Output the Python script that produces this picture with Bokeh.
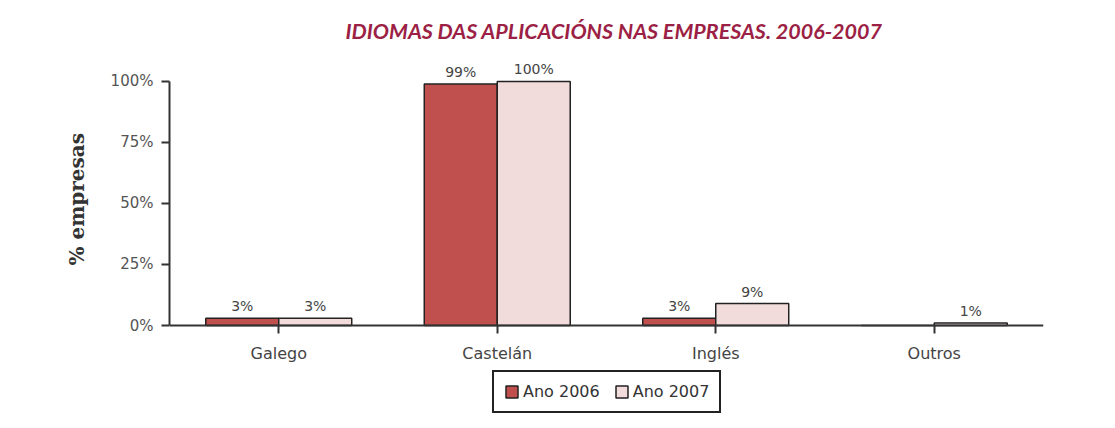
from bokeh.plotting import figure
from bokeh.models import (ColumnDataSource, FactorRange, Legend, LegendItem, Title,
                          PrintfTickFormatter, FixedTicker)
from bokeh.transform import dodge
from bokeh.core.properties import value
from bokeh.embed import file_html
from bokeh.resources import INLINE

categories = ["Galego", "Castelán", "Inglés", "Outros"]
ano_2006 = [3, 99, 3, 0]
ano_2007 = [3, 100, 9, 1]
series_names = ["Ano 2006", "Ano 2007"]
y_ticks = [0, 25, 50, 75, 100]
title_text = "IDIOMAS DAS APLICACIÓNS NAS EMPRESAS. 2006-2007"
y_label = "% empresas"

c2006 = "#c0504d"
c2007 = "#f2dcdb"

def lbl(vals):
    return [f"{v}%" if v > 0 else "" for v in vals]

src = ColumnDataSource(dict(cat=categories, a=ano_2006, b=ano_2007,
                            la=lbl(ano_2006), lb=lbl(ano_2007)))

p = figure(width=1095, height=420, output_backend="svg", toolbar_location=None,
           x_range=FactorRange(factors=categories, range_padding=0),
           y_range=(-38.1, 109.4), min_border_left=169, min_border_right=52,
           min_border_top=58, min_border_bottom=2, title=None)
p.background_fill_color = "white"
p.border_fill_color = "white"
p.outline_line_color = None
p.xgrid.grid_line_color = None
p.ygrid.grid_line_color = None

bw = 0.334
r1 = p.vbar(x=dodge("cat", -bw / 2, range=p.x_range), top="a", width=bw, source=src,
            fill_color=c2006, line_color="#222222", line_width=1.5)
r2 = p.vbar(x=dodge("cat", bw / 2, range=p.x_range), top="b", width=bw, source=src,
            fill_color=c2007, line_color="#222222", line_width=1.5)

for col, lab, off in (("a", "la", -bw / 2), ("b", "lb", bw / 2)):
    p.text(x=dodge("cat", off, range=p.x_range), y=col, text=lab, source=src,
           text_align="center", text_baseline="bottom", y_offset=-4,
           text_font=value("DejaVu Sans"), text_font_size="14px",
           text_color="#444444")

# y axis
p.yaxis.ticker = FixedTicker(ticks=y_ticks)
p.yaxis.formatter = PrintfTickFormatter(format="%d%%")
p.yaxis.bounds = (0, 100)
p.yaxis.axis_line_width = 2
p.yaxis.axis_line_color = "#333333"
p.yaxis.major_tick_line_color = "#333333"
p.yaxis.major_tick_line_width = 2
p.yaxis.major_tick_out = 8
p.yaxis.major_tick_in = 0
p.yaxis.minor_tick_line_color = None
p.yaxis.major_label_text_font = "DejaVu Sans"
p.yaxis.major_label_text_font_size = "15px"
p.yaxis.major_label_text_color = "#555555"
p.yaxis.major_label_standoff = 8

# y axis title, positioned along the 0-100 span of the axis
ytitle = Title(text=y_label, align="left", offset=153, text_font="DejaVu Serif",
               text_font_style="bold", text_font_size="20px",
               text_color="#333333", standoff=38)
p.add_layout(ytitle, "left")

# x axis drawn at y = 0 (takes no panel space)
p.xaxis.fixed_location = 0
p.xaxis.axis_line_width = 2
p.xaxis.axis_line_color = "#333333"
p.xaxis.major_tick_line_color = "#333333"
p.xaxis.major_tick_line_width = 2
p.xaxis.major_tick_out = 8
p.xaxis.major_tick_in = 0
p.xaxis.major_label_text_font = "DejaVu Sans"
p.xaxis.major_label_text_font_size = "16px"
p.xaxis.major_label_text_color = "#444444"
p.xaxis.major_label_standoff = 10

title = Title(text=title_text, align="left", offset=176, text_font="Lato",
              text_font_style="bold italic", text_font_size="21.5px",
              text_color="#9c1f45", standoff=30)
p.add_layout(title, "above")

legend = Legend(items=[LegendItem(label=series_names[0], renderers=[r1]),
                       LegendItem(label=series_names[1], renderers=[r2])],
                orientation="horizontal", location=(323, 5),
                border_line_color="#222222", border_line_width=2,
                border_line_alpha=1.0,
                background_fill_color="white", background_fill_alpha=1,
                label_text_font="DejaVu Sans", label_text_font_size="16px",
                label_text_color="#333333", glyph_width=15, glyph_height=15,
                label_standoff=4, spacing=14, padding=10, margin=0)
p.add_layout(legend, "center")

open("out.html", "w").write(file_html(p, INLINE))
